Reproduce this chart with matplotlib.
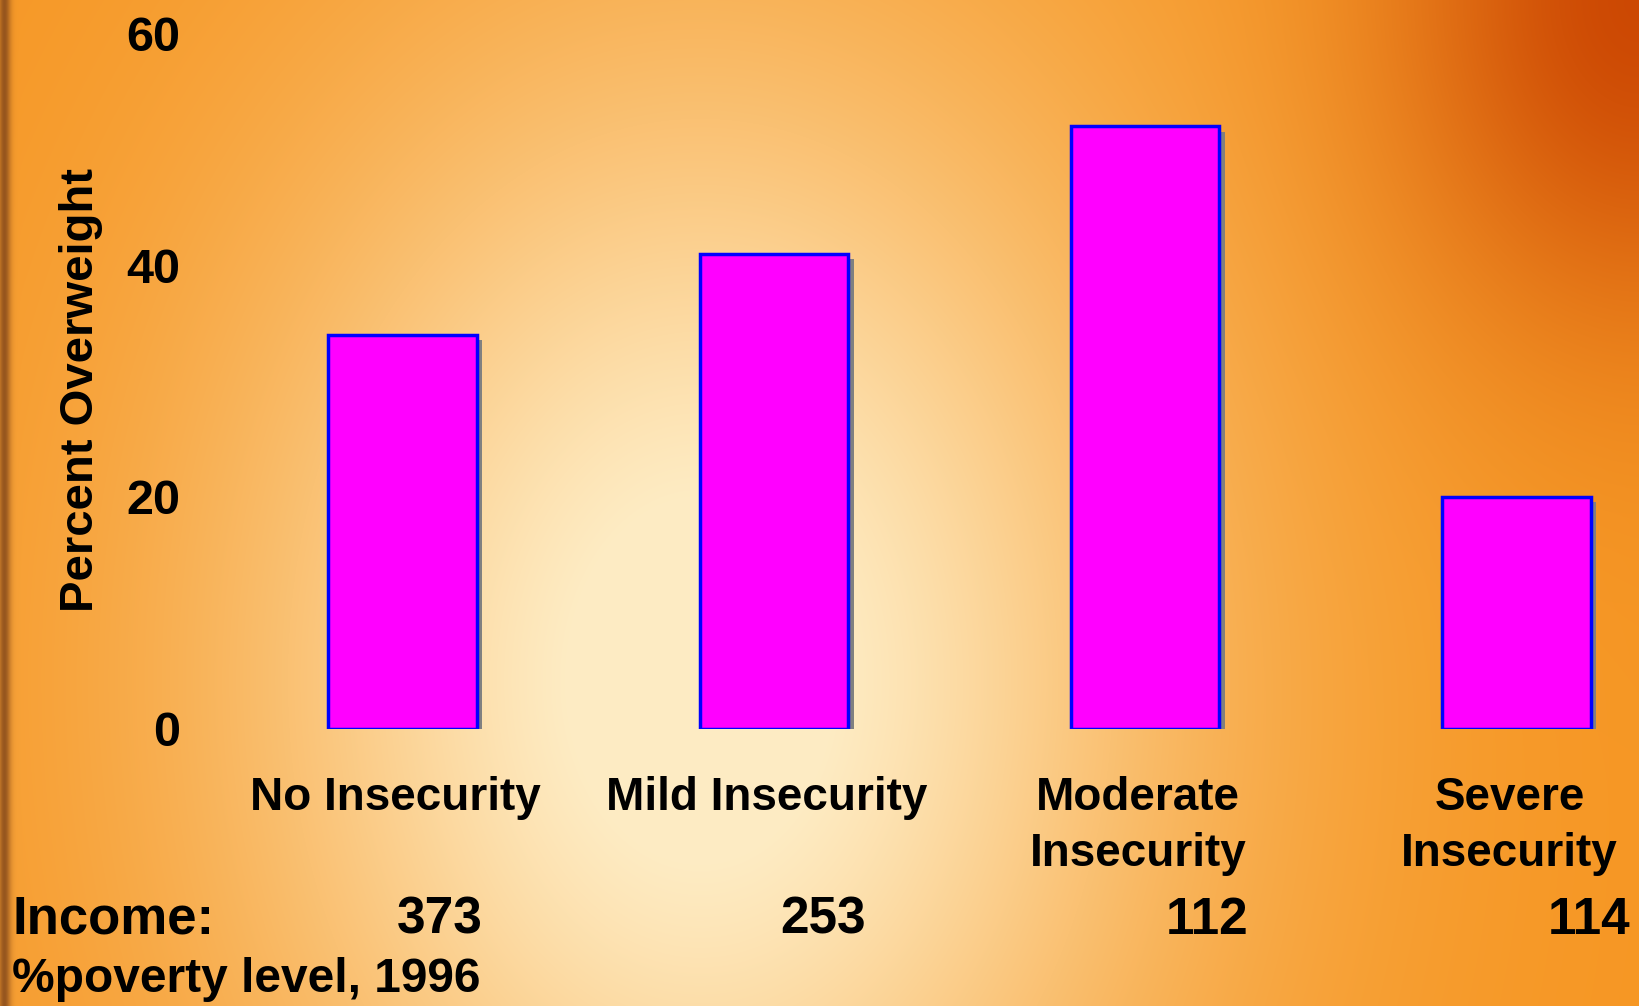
import numpy as np
import matplotlib
matplotlib.use("Agg")
import matplotlib.pyplot as plt
import matplotlib.patheffects as pe
import matplotlib.transforms as mtransforms

plt.rcParams['font.family'] = ['Liberation Sans', 'DejaVu Sans']
plt.rcParams['font.weight'] = 'bold'

# Percent overweight by food security status
categories = ['No Insecurity', 'Mild Insecurity', 'Moderate\nInsecurity', 'Severe\nInsecurity']
pct_overweight = [34, 41, 52, 20]
income_pct_poverty = [373, 253, 112, 114]
yticks = [0, 20, 40, 60]

W, H = 1639, 1006
fig = plt.figure(figsize=(W / 100, H / 100), dpi=100)

# warm orange backdrop with a pale glow in the middle
yy, xx = np.mgrid[0:H, 0:W].astype(float)
orange = np.array([246, 150, 34]) / 255
cream = np.array([254, 236, 196]) / 255
dark = np.array([200, 64, 0]) / 255
brown = np.array([140, 78, 28]) / 255
glow = np.exp(-((xx - 700) / 470) ** 2 - ((yy - 680) / 640) ** 2)
glow = np.clip(glow * 1.08, 0, 1)
img = orange + (cream - orange) * glow[..., None]
corner = np.exp(-((W - xx) / 240) ** 2 - (yy / 320) ** 2)
img = img + (dark - img) * (0.9 * corner)[..., None]
edge = np.exp(-((xx - 4) / 6) ** 2)
img = img + (brown - img) * (0.9 * edge)[..., None]
bg = fig.add_axes([0, 0, 1, 1], zorder=-1)
bg.imshow(np.clip(img, 0, 1), aspect='auto', extent=(0, W, H, 0))
bg.axis('off')

ax = fig.add_axes([216.7 / W, 1 - 728.6 / H, (W - 216.7) / W, (728.6 - 33.5) / H])
ax.patch.set_alpha(0)
x = np.arange(len(categories))
bars = ax.bar(x, pct_overweight, width=0.4, color='#FF00FF', edgecolor='#0000FF', linewidth=2.5)
for b in bars:
    b.set_path_effects([pe.SimplePatchShadow(offset=(4, -4), shadow_rgbFace='#808080', alpha=1.0), pe.Normal()])

ax.set_xlim(-0.5, (W - 402.4) / 371.4)
ax.set_ylim(0, 60)
ax.set_yticks(yticks)
ax.set_yticklabels([str(t) for t in yticks], fontsize=35, fontweight='bold')
ax.set_xticks(x)
ax.set_xticklabels(categories, fontsize=33, fontweight='bold', linespacing=1.35)
ax.tick_params(axis='y', length=0, pad=26)
ax.tick_params(axis='x', length=0, pad=34)
shift = mtransforms.ScaledTranslation(-7 / 100, 0, fig.dpi_scale_trans)
for lbl in ax.get_xticklabels():
    lbl.set_transform(lbl.get_transform() + shift)
for s in ax.spines.values():
    s.set_visible(False)

fig.text(81.5 / W, 1 - 390.4 / H, 'Percent Overweight', rotation=90, ha='center', va='center',
         fontsize=34, fontweight='bold')

# income row under the categories
fig.text(12.5 / W, 1 - 920 / H, 'Income:', ha='left', va='center', fontsize=38, fontweight='bold')
for i, v in enumerate(income_pct_poverty):
    fig.text((483 + i * 382.5) / W, 1 - 920 / H, str(v), ha='right', va='center',
             fontsize=37, fontweight='bold')
fig.text(12.5 / W, 1 - 979 / H, '%poverty level, 1996', ha='left', va='center',
         fontsize=34.5, fontweight='bold')

fig.savefig('out.png', dpi=100)
